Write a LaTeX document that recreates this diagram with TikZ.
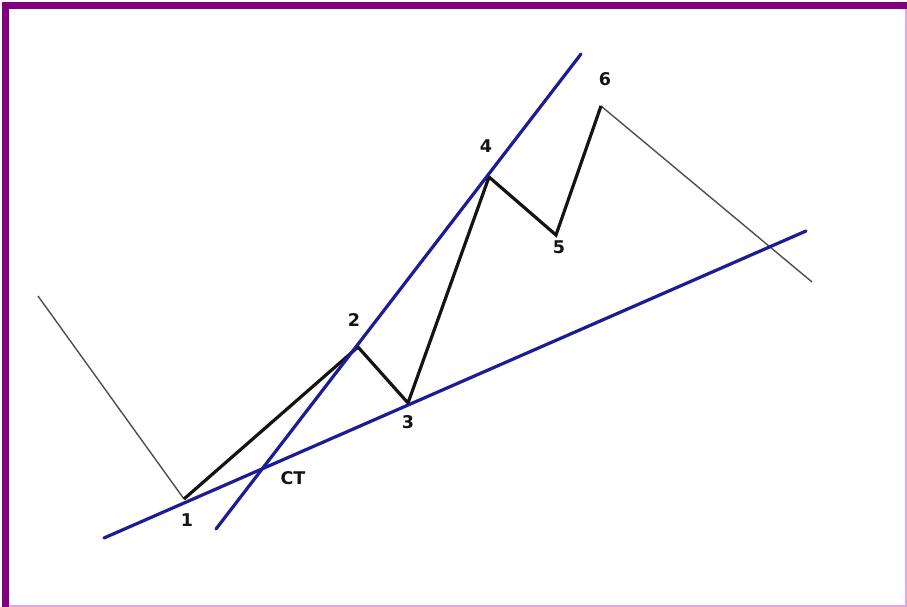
\documentclass[tikz,border=0pt]{standalone}
\usepackage{fontspec}
\setmainfont{DejaVu Sans}
\usepackage{xcolor}
\usepackage{tikz}
\usetikzlibrary{calc}
\definecolor{figframe}{RGB}{128,0,128}
\definecolor{figedge}{RGB}{222,170,222}
\definecolor{figtrend}{RGB}{28,28,150}
\definecolor{figwave}{RGB}{20,20,20}
\tikzset{
  frm/.style  ={draw=figframe, line width=7pt, line cap=butt},
  frme/.style ={draw=figedge, line width=1.5pt},
  wv/.style   ={draw=figwave, line width=3.2pt, line join=miter},
  wvt/.style  ={draw=figwave!75, line width=1.4pt},
  tl/.style   ={draw=figtrend, line width=3.2pt, line cap=round},
  lab/.style  ={font=\fontsize{17.5}{20}\selectfont\bfseries, text=figwave, inner sep=1pt},
}
\begin{document}
\begin{tikzpicture}[x=1pt,y=-1pt]
  \useasboundingbox (0,0) rectangle (907,607);
  \fill[white] (0,0) rectangle (907,607);
  % frame
  \draw[frme] (906,5) -- (906,606) -- (5,606);
  \draw[frm] (5.5,607) -- (5.5,5.5) -- (907,5.5);
  % wave points
  \coordinate (p0) at (38,296);
  \coordinate (p1) at (184,499);
  \coordinate (p2) at (358,347);
  \coordinate (p3) at (408,403);
  \coordinate (p4) at (489,177);
  \coordinate (p5) at (556,235);
  \coordinate (p6) at (601,106);
  \coordinate (p7) at (812,282);
  % trend lines
  \coordinate (la) at (104,538);
  \coordinate (lb) at (806,231);
  \coordinate (ua) at (216,529);
  \coordinate (ub) at (581,54);
  \draw[wvt] (p0) -- (p1);
  \draw[wvt] (p6) -- (p7);
  \draw[wv] (p1) -- (p2) -- (p3) -- (p4) -- (p5) -- (p6);
  \draw[tl] (la) -- (lb);
  \draw[tl] (ua) -- (ub);
  % labels
  \node[lab] (n1) at (187,520) {1};
  \node[lab] (n2) at (354,320) {2};
  \node[lab] (n3) at (408,422) {3};
  \node[lab] (n4) at (486,146) {4};
  \node[lab] (n5) at (559,247) {5};
  \node[lab] (n6) at (605,79) {6};
  \node[lab] (ct) at (293,478) {CT};
\end{tikzpicture}
\end{document}
